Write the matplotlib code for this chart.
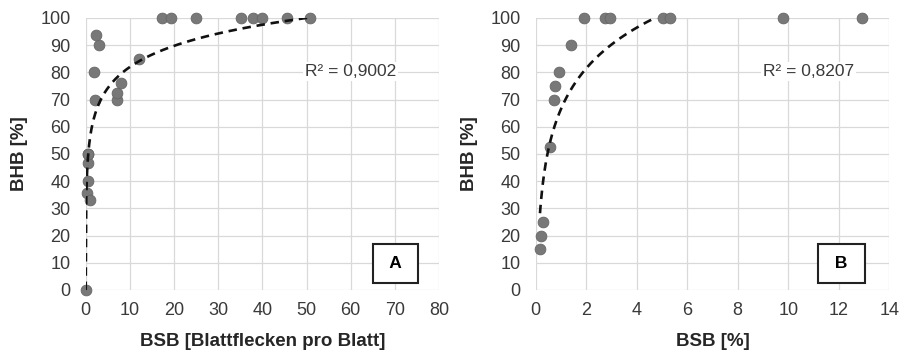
import numpy as np
import matplotlib
matplotlib.use("Agg")
import matplotlib.pyplot as plt

plt.rcParams["font.family"] = ["Liberation Sans", "DejaVu Sans"]

# Panel A: BSB (leaf spots per leaf) vs BHB
a_x = [0, 0.2, 1.0, 0.6, 0.6, 0.6, 0.6, 2.0, 1.8, 3.1, 2.3, 7.0, 7.2, 8.1, 12.1,
       17.2, 19.4, 25.0, 35.1, 37.8, 40.0, 45.5, 50.9]
a_y = [0, 35.5, 33, 40, 46.6, 50, 50, 70, 80, 90, 93.7, 70, 72.5, 76, 85,
       100, 100, 100, 100, 100, 100, 100, 100]
a_trend = (11.2, 56.2)   # y = a*ln(x) + b
a_r2 = "R² = 0,9002"

# Panel B: BSB [%] vs BHB
b_x = [0.17, 0.21, 0.30, 0.57, 0.72, 0.78, 0.94, 1.38, 1.91, 2.74, 2.94, 5.05, 5.32, 9.80, 12.93]
b_y = [15, 20, 25, 52.7, 70, 75, 80, 90, 100, 100, 100, 100, 100, 100, 100]
b_trend = (21.6, 66.5)
b_r2 = "R² = 0,8207"

fig = plt.figure(figsize=(9, 3.54), dpi=100)
ax_a = fig.add_axes([0.0952, 0.1808, 0.3926, 0.7684])
ax_b = fig.add_axes([0.5952, 0.1808, 0.3929, 0.7684])

panels = [
    (ax_a, a_x, a_y, a_trend, a_r2, "A", 80, 10, "BSB [Blattflecken pro Blatt]", 49.6, 70.2),
    (ax_b, b_x, b_y, b_trend, b_r2, "B", 14, 2, "BSB [%]", 9.0, 12.1),
]

for ax, xs, ys, (ta, tb), r2, tag, xmax, xstep, xlabel, r2x, tagx in panels:
    ax.set_xlim(0, xmax)
    ax.set_ylim(0, 100)
    ax.set_xticks(np.arange(0, xmax + 0.1, xstep))
    ax.set_yticks(np.arange(0, 101, 10))
    ax.grid(True, color="#d9d9d9", lw=0.9)
    ax.set_axisbelow(True)
    for s in ax.spines.values():
        s.set_visible(False)
    ax.tick_params(length=0, labelsize=13, colors="#3a3a3a")
    ax.tick_params(axis="y", pad=11)
    ax.tick_params(axis="x", pad=9)

    ax.scatter(xs, ys, s=60, color="#787878", edgecolor="#666666", lw=0.6,
               zorder=3, clip_on=False)

    x0 = max(min(xs), np.exp(-tb / ta))
    xt = np.linspace(x0, max(xs), 400)
    ax.plot(xt, ta * np.log(xt) + tb, color="#111111", lw=1.9,
            dashes=(3.2, 2.2), zorder=4)

    ax.text(r2x, 80.3, r2, fontsize=12.5, color="#3a3a3a", va="center", ha="left",
            bbox=dict(facecolor="white", edgecolor="none", pad=1.5), zorder=2)
    ax.text(tagx, 9.8, " " + tag + " ", fontsize=12.5, fontweight="bold",
            ha="center", va="center",
            bbox=dict(boxstyle="square,pad=0.7", facecolor="white",
                      edgecolor="#222222", lw=1.5), zorder=5)

    ax.set_xlabel(xlabel, fontsize=13.5, fontweight="bold", color="#262626", labelpad=10)
    ax.set_ylabel("BHB [%]", fontsize=13.5, fontweight="bold", color="#262626", labelpad=9)

fig.savefig("out.png", dpi=100)
